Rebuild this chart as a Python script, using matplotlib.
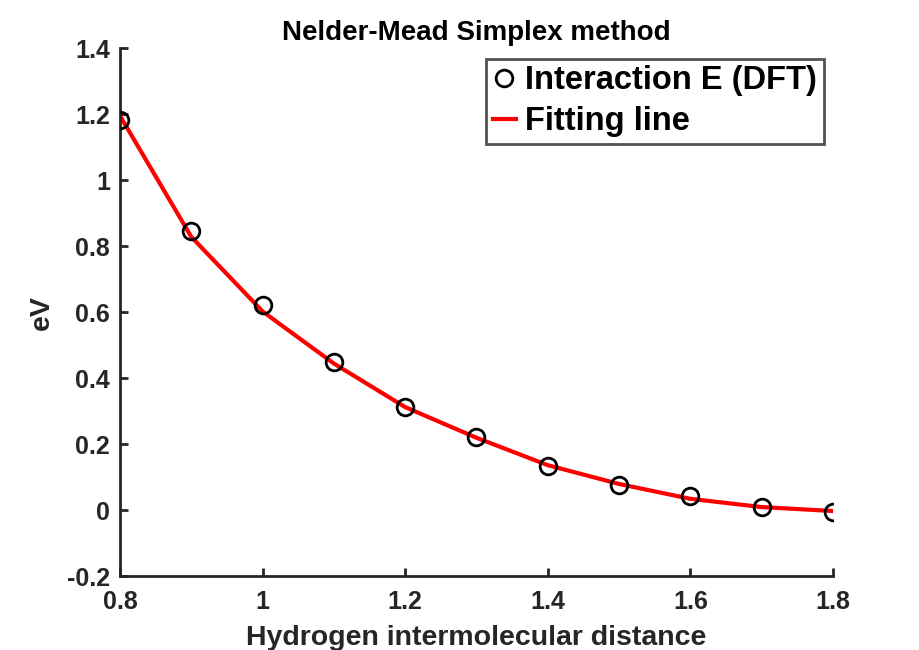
import matplotlib
matplotlib.use("Agg")
import matplotlib.pyplot as plt

plt.rcParams['font.family'] = ['Liberation Sans', 'DejaVu Sans']
plt.rcParams['font.weight'] = 'bold'

# hydrogen distance vs interaction energy
distance = [0.8, 0.9, 1.0, 1.1, 1.2, 1.3, 1.4, 1.5, 1.6, 1.7, 1.8]
energy_dft = [1.182, 0.845, 0.62, 0.448, 0.313, 0.222, 0.134, 0.076, 0.042, 0.010, -0.007]
energy_fit = [1.195, 0.828, 0.602, 0.444, 0.312, 0.219, 0.136, 0.079, 0.034, 0.009, -0.003]

xticks = [0.8, 1, 1.2, 1.4, 1.6, 1.8]
xtick_labels = ['0.8', '1', '1.2', '1.4', '1.6', '1.8']
yticks = [-0.2, 0, 0.2, 0.4, 0.6, 0.8, 1, 1.2, 1.4]
ytick_labels = ['-0.2', '0', '0.2', '0.4', '0.6', '0.8', '1', '1.2', '1.4']

axcol = '#262626'

fig = plt.figure(figsize=(9.2, 6.5), dpi=100)
ax = fig.add_axes([0.1304, 0.1138, 0.775, 0.8122])

ax.plot(distance, energy_dft, 'o', ms=12, mfc='none', mec='black', mew=2,
        label='Interaction E (DFT)', zorder=3)
ax.plot(distance, energy_fit, '-', color='red', lw=3, label='Fitting line', zorder=2)

ax.set_xlim(0.8, 1.8)
ax.set_ylim(-0.2, 1.4)
ax.set_xticks(xticks)
ax.set_xticklabels(xtick_labels)
ax.set_yticks(yticks)
ax.set_yticklabels(ytick_labels)

for s in ['top', 'right']:
    ax.spines[s].set_visible(False)
for s in ['left', 'bottom']:
    ax.spines[s].set_color(axcol)
    ax.spines[s].set_linewidth(2)
ax.tick_params(direction='in', length=6, width=2, colors=axcol, labelsize=18)
ax.tick_params(axis='x', pad=10)
ax.tick_params(axis='y', pad=7)
for lbl in ax.get_xticklabels() + ax.get_yticklabels():
    lbl.set_fontweight('bold')
    lbl.set_color(axcol)

ax.set_xlabel('Hydrogen intermolecular distance', fontsize=20.5, fontweight='bold', color=axcol, labelpad=8)
ax.set_ylabel('eV', fontsize=20.5, fontweight='bold', color=axcol, labelpad=9)
ax.set_title('Nelder-Mead Simplex method', fontsize=20, fontweight='bold', pad=6)

leg = ax.legend(loc='upper right', bbox_to_anchor=(0.987, 0.98),
                prop={'weight': 'bold', 'size': 23.5}, frameon=True, fancybox=False,
                handlelength=0.7, handletextpad=0.3, borderpad=0.2, labelspacing=0.3,
                borderaxespad=0)
leg.get_frame().set_edgecolor(axcol)
leg.get_frame().set_linewidth(2)

fig.savefig('out.png', dpi=100)
